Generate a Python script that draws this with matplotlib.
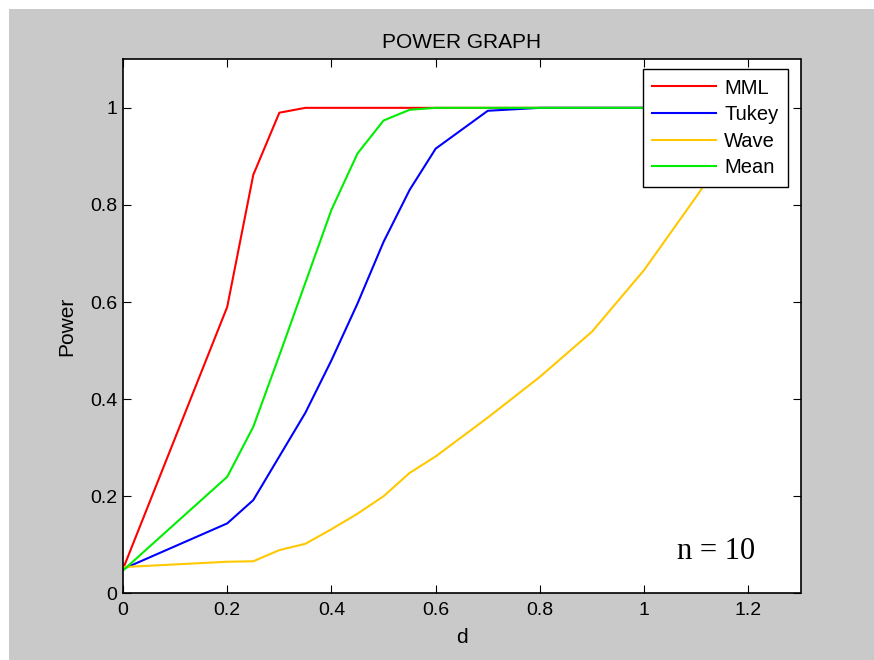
import matplotlib
matplotlib.use('Agg')
import matplotlib.pyplot as plt
from matplotlib.patches import Rectangle

# effect size and power of each test
d = [0, 0.2, 0.25, 0.3, 0.35, 0.4, 0.45, 0.5, 0.55, 0.6, 0.7, 0.8, 0.9, 1.0, 1.1, 1.2]
mml = [0.05, 0.59, 0.862, 0.99, 1.0, 1.0, 1.0, 1.0, 1.0, 1.0, 1.0, 1.0, 1.0, 1.0, 1.0, 1.0]
tukey = [0.05, 0.144, 0.192, 0.282, 0.372, 0.48, 0.597, 0.724, 0.831, 0.916, 0.994, 1.0, 1.0, 1.0, 1.0, 1.0]
wave = [0.054, 0.065, 0.066, 0.089, 0.102, 0.132, 0.164, 0.2, 0.248, 0.282, 0.362, 0.446, 0.539, 0.666, 0.817, 0.975]
mean = [0.047, 0.24, 0.343, 0.49, 0.64, 0.79, 0.906, 0.974, 0.996, 1.0, 1.0, 1.0, 1.0, 1.0, 1.0, 1.0]

series = [('MML', mml, '#ff0000'), ('Tukey', tukey, '#0000ff'),
          ('Wave', wave, '#ffc800'), ('Mean', mean, '#00ee00')]

plt.rcParams['font.family'] = ['Liberation Sans', 'DejaVu Sans']
W, H = 874, 660
fig = plt.figure(figsize=(W / 100, H / 100), dpi=100, facecolor='white')
# grey matlab-like figure background, with a thin white margin top/left
fig.patches.append(Rectangle((9 / W, 0), 1, 1 - 9 / H, transform=fig.transFigure,
                             facecolor='#c9c9c9', edgecolor='none', zorder=-10))

ax = fig.add_axes([123 / W, 1 - 593.3 / H, 677.5 / W, 534 / H])
ax.set_facecolor('white')

for name, vals, col in series:
    ax.plot(d, vals, color=col, lw=1.5, label=name)

ax.set_xlim(0, 1.3)
ax.set_ylim(0, 1.1)
ax.set_xticks([0, 0.2, 0.4, 0.6, 0.8, 1, 1.2])
ax.set_xticklabels(['0', '0.2', '0.4', '0.6', '0.8', '1', '1.2'])
ax.set_yticks([0, 0.2, 0.4, 0.6, 0.8, 1])
ax.set_yticklabels(['0', '0.2', '0.4', '0.6', '0.8', '1'])
ax.tick_params(axis='both', direction='in', length=5.5, width=0.8, labelsize=14,
               top=True, right=True, colors='black')
ax.tick_params(axis='x', pad=6)
ax.tick_params(axis='y', pad=4)
for s in ax.spines.values():
    s.set_linewidth(1.2)

ax.set_title('POWER GRAPH', fontsize=15, pad=8)
ax.set_xlabel('d', fontsize=15, labelpad=7)
ax.set_ylabel('Power', fontsize=15, labelpad=10)

ax.text(1.138, 0.087, 'n = 10', fontsize=22, family=['Liberation Serif'],
        ha='center', va='center')

leg = ax.legend(loc='upper right', bbox_to_anchor=(0.981, 0.981), borderaxespad=0,
                fontsize=14.5, fancybox=False, framealpha=1, edgecolor='black',
                handlelength=3.2, handletextpad=0.4, labelspacing=0.38,
                borderpad=0.45)
leg.get_frame().set_linewidth(1.0)

fig.savefig('out.png', dpi=100, facecolor=fig.get_facecolor())
